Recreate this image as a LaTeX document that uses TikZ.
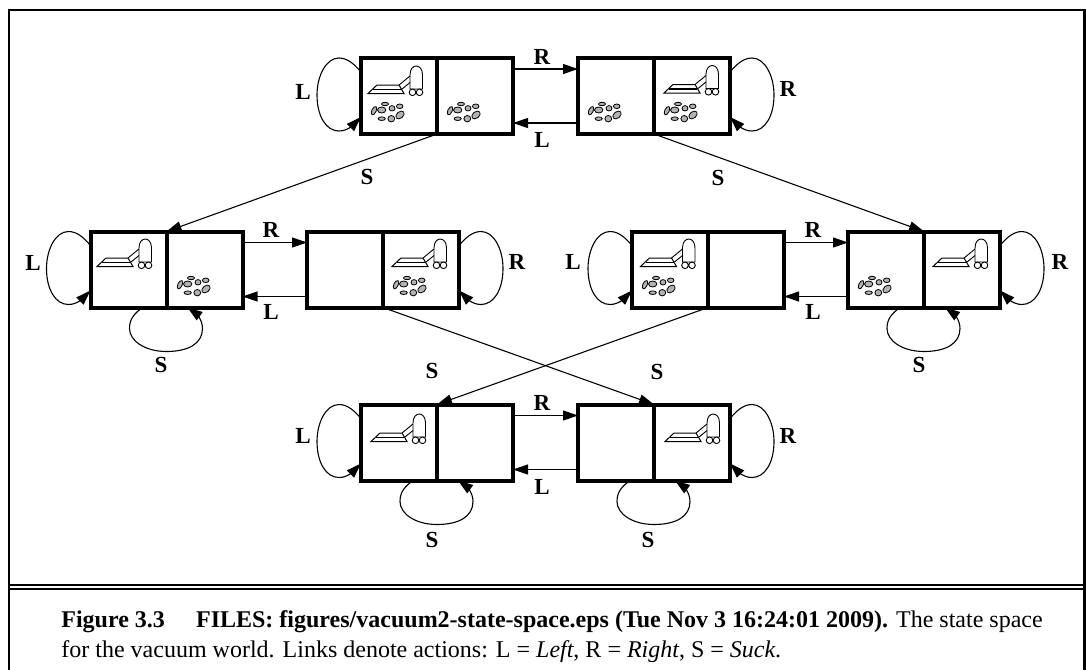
\documentclass[tikz,border=0pt]{standalone}
\usepackage{fontspec}
\setmainfont{Liberation Serif}
\usetikzlibrary{arrows.meta,calc,positioning}
\tikzset{
  cell/.style={draw,line width=2pt,minimum size=38pt,inner sep=0pt,outer sep=0pt},
  link/.style={line width=0.55pt,-{Triangle[length=7.5pt,width=5pt]}},
  tag/.style={inner sep=0pt,font=\fontsize{11.5}{13}\selectfont\bfseries},
  frameline/.style={line width=1.15pt},
  pics/vacuum/.style={code={
    \draw[line width=0.45pt,fill=white] (49,31) -- (49,17) .. controls (49,5) and (61.5,5) .. (61.5,17) -- (61.5,31) -- cycle;
    \draw[line width=0.45pt] (38,27) -- (49,18) (41,31) -- (49,24.5);
    \draw[line width=0.5pt] (7,35.5) -- (16,27) -- (38,27) -- (43,35.5) -- cycle;
    \draw[line width=0.6pt] (12,31.5) -- (40,31.5);
    \draw[line width=0.45pt,fill=white] (51.5,34.3) circle (3.3) (58.5,34.3) circle (3.3);
  }},
  pics/dirt/.style={code={
    \begin{scope}[draw=black,fill=black!30,line width=0.4pt]
      \filldraw (13,52.7) [rotate around={-25:(13,52.7)}] ellipse (2.2 and 4.5);
      \filldraw (20.7,52) ellipse (4.2 and 3);
      \filldraw (24,46) ellipse (3.5 and 1.7);
      \filldraw (31,50.3) ellipse (3 and 2.7);
      \filldraw (38.7,48.3) ellipse (3.3 and 2.3);
      \filldraw (20.7,60.7) ellipse (3.6 and 1.8);
      \filldraw (30.3,60.7) ellipse (3.4 and 3.2);
      \filldraw (39,57) [rotate around={40:(39,57)}] ellipse (4.8 and 3.2);
    \end{scope}
  }},
}
% loops hang off the outer side or the bottom of a cell
\newcommand{\loopleft}[1]{\draw[link] ($(#1.west)+(0,-24)$)
  .. controls ($(#1.west)+(-6,-31)$) and ($(#1.west)+(-13,-38)$) .. ($(#1.west)+(-22,-38)$)
  .. controls ($(#1.west)+(-35,-38)$) and ($(#1.west)+(-44,-20)$) .. ($(#1.west)+(-44,-1)$)
  .. controls ($(#1.west)+(-44,20)$) and ($(#1.west)+(-35,35)$) .. ($(#1.west)+(-22,35)$)
  .. controls ($(#1.west)+(-13,35)$) and ($(#1.west)+(-7,28)$) .. ($(#1.west)+(0,21)$);}
\newcommand{\loopright}[1]{\draw[link] ($(#1.east)+(0,-24)$)
  .. controls ($(#1.east)+(6,-31)$) and ($(#1.east)+(13,-38)$) .. ($(#1.east)+(22,-38)$)
  .. controls ($(#1.east)+(35,-38)$) and ($(#1.east)+(44,-20)$) .. ($(#1.east)+(44,-1)$)
  .. controls ($(#1.east)+(44,20)$) and ($(#1.east)+(35,35)$) .. ($(#1.east)+(22,35)$)
  .. controls ($(#1.east)+(13,35)$) and ($(#1.east)+(7,28)$) .. ($(#1.east)+(0,21)$);}
\newcommand{\loopunder}[1]{\draw[link] ($(#1.south east)+(-24,0)$)
  .. controls ($(#1.south east)+(-32,6)$) and ($(#1.south east)+(-37,11)$) .. ($(#1.south east)+(-37,21)$)
  .. controls ($(#1.south east)+(-37,33)$) and ($(#1.south east)+(-22,44)$) .. ($(#1.south east)+(0,44)$)
  .. controls ($(#1.south east)+(22,44)$) and ($(#1.south east)+(36,36)$) .. ($(#1.south east)+(36,21)$)
  .. controls ($(#1.south east)+(36,11)$) and ($(#1.south east)+(28,5)$) .. ($(#1.south east)+(21,0)$);}
% the two links between the rooms of neighbouring states
\newcommand{\moves}[2]{
  \draw[link] ($(#1.north east)+(0,11)$) -- ($(#2.north west)+(0,11)$);
  \draw[link] ($(#2.south west)+(0,-11)$) -- ($(#1.south east)+(0,-11)$);}
\begin{document}
\begin{tikzpicture}[x=0.5pt,y=-0.5pt]
  \useasboundingbox (0,0) rectangle (1086,669);
  \draw[frameline] (9,680) -- (9,10) -- (1084.5,10) -- (1084.5,680);
  \draw[frameline] (9,585.3) -- (1084.5,585.3) (9,589.3) -- (1084.5,589.3);

  % top row
  \node[cell] (ta) at (399,96) {};
  \node[cell,right=0pt of ta] (tb) {};
  \node[cell] (tc) at (616,96) {};
  \node[cell,right=0pt of tc] (td) {};
  % middle row
  \node[cell] (ma) at (128.5,269.5) {};
  \node[cell,right=0pt of ma] (mb) {};
  \node[cell] (mc) at (345,269.5) {};
  \node[cell,right=0pt of mc] (md) {};
  \node[cell] (me) at (670,269.5) {};
  \node[cell,right=0pt of me] (mf) {};
  \node[cell] (mg) at (886,269.5) {};
  \node[cell,right=0pt of mg] (mh) {};
  % bottom row
  \node[cell] (ba) at (399,442.5) {};
  \node[cell,right=0pt of ba] (bb) {};
  \node[cell] (bc) at (616,442.5) {};
  \node[cell,right=0pt of bc] (bd) {};

  % vacuums and dirt
  \pic at (361,58) {vacuum};
  \pic at (657,57.5) {vacuum};
  \pic at (90,231) {vacuum};
  \pic at (385,231) {vacuum};
  \pic at (633.5,231) {vacuum};
  \pic at (926,231) {vacuum};
  \pic at (364,406) {vacuum};
  \pic at (658,406) {vacuum};
  \pic at (361,58) {dirt};
  \pic at (437,58) {dirt};
  \pic at (578,58) {dirt};
  \pic at (654,58) {dirt};
  \pic at (167,232) {dirt};
  \pic at (383,232) {dirt};
  \pic at (632,232) {dirt};
  \pic at (848,232) {dirt};

  % links
  \moves{tb}{tc}
  \moves{mb}{mc}
  \moves{mf}{mg}
  \moves{bb}{bc}
  \draw[link] (ta.south east) -- (mb.north west);
  \draw[link] (td.south west) -- (mh.north west);
  \draw[link] (md.south west) -- (bd.north west);
  \draw[link] (mf.south west) -- (bb.north west);
  \loopleft{ta}
  \loopright{td}
  \loopleft{ma}
  \loopright{md}
  \loopleft{me}
  \loopright{mh}
  \loopleft{ba}
  \loopright{bd}
  \loopunder{ma}
  \loopunder{mg}
  \loopunder{ba}
  \loopunder{bc}

  % labels
  \node[tag] (t1) at (542,57) {R};
  \node[tag] (t2) at (542,140) {L};
  \node[tag] (t3) at (303,92) {L};
  \node[tag] (t4) at (788,89) {R};
  \node[tag] (t5) at (367,177) {S};
  \node[tag] (t6) at (718,178) {S};
  \node[tag] (m1) at (271,230) {R};
  \node[tag] (m2) at (271,312) {L};
  \node[tag] (m3) at (33,263) {L};
  \node[tag] (m4) at (517,262) {R};
  \node[tag] (m5) at (161,365) {S};
  \node[tag] (m6) at (813,230) {R};
  \node[tag] (m7) at (813,312) {L};
  \node[tag] (m8) at (573,262) {L};
  \node[tag] (m9) at (1060,262) {R};
  \node[tag] (m10) at (919,365) {S};
  \node[tag] (m11) at (432,371) {S};
  \node[tag] (m12) at (657,372) {S};
  \node[tag] (b1) at (542,403) {R};
  \node[tag] (b2) at (542,487) {L};
  \node[tag] (b3) at (303,436) {L};
  \node[tag] (b4) at (788,436) {R};
  \node[tag] (b5) at (432,540) {S};
  \node[tag] (b6) at (648,540) {S};

  % caption
  \node[anchor=north west,inner sep=0pt,align=left,font=\fontsize{12}{15}\selectfont] (caption) at (61,610.5)
    {\textbf{Figure 3.3\hspace{1.3em}FILES: figures/vacuum2-state-space.eps (Tue Nov 3 16:24:01 2009).} The state space\\
     for the vacuum world. Links denote actions: L = \textit{Left}, R = \textit{Right}, S = \textit{Suck}.};
\end{tikzpicture}
\end{document}
